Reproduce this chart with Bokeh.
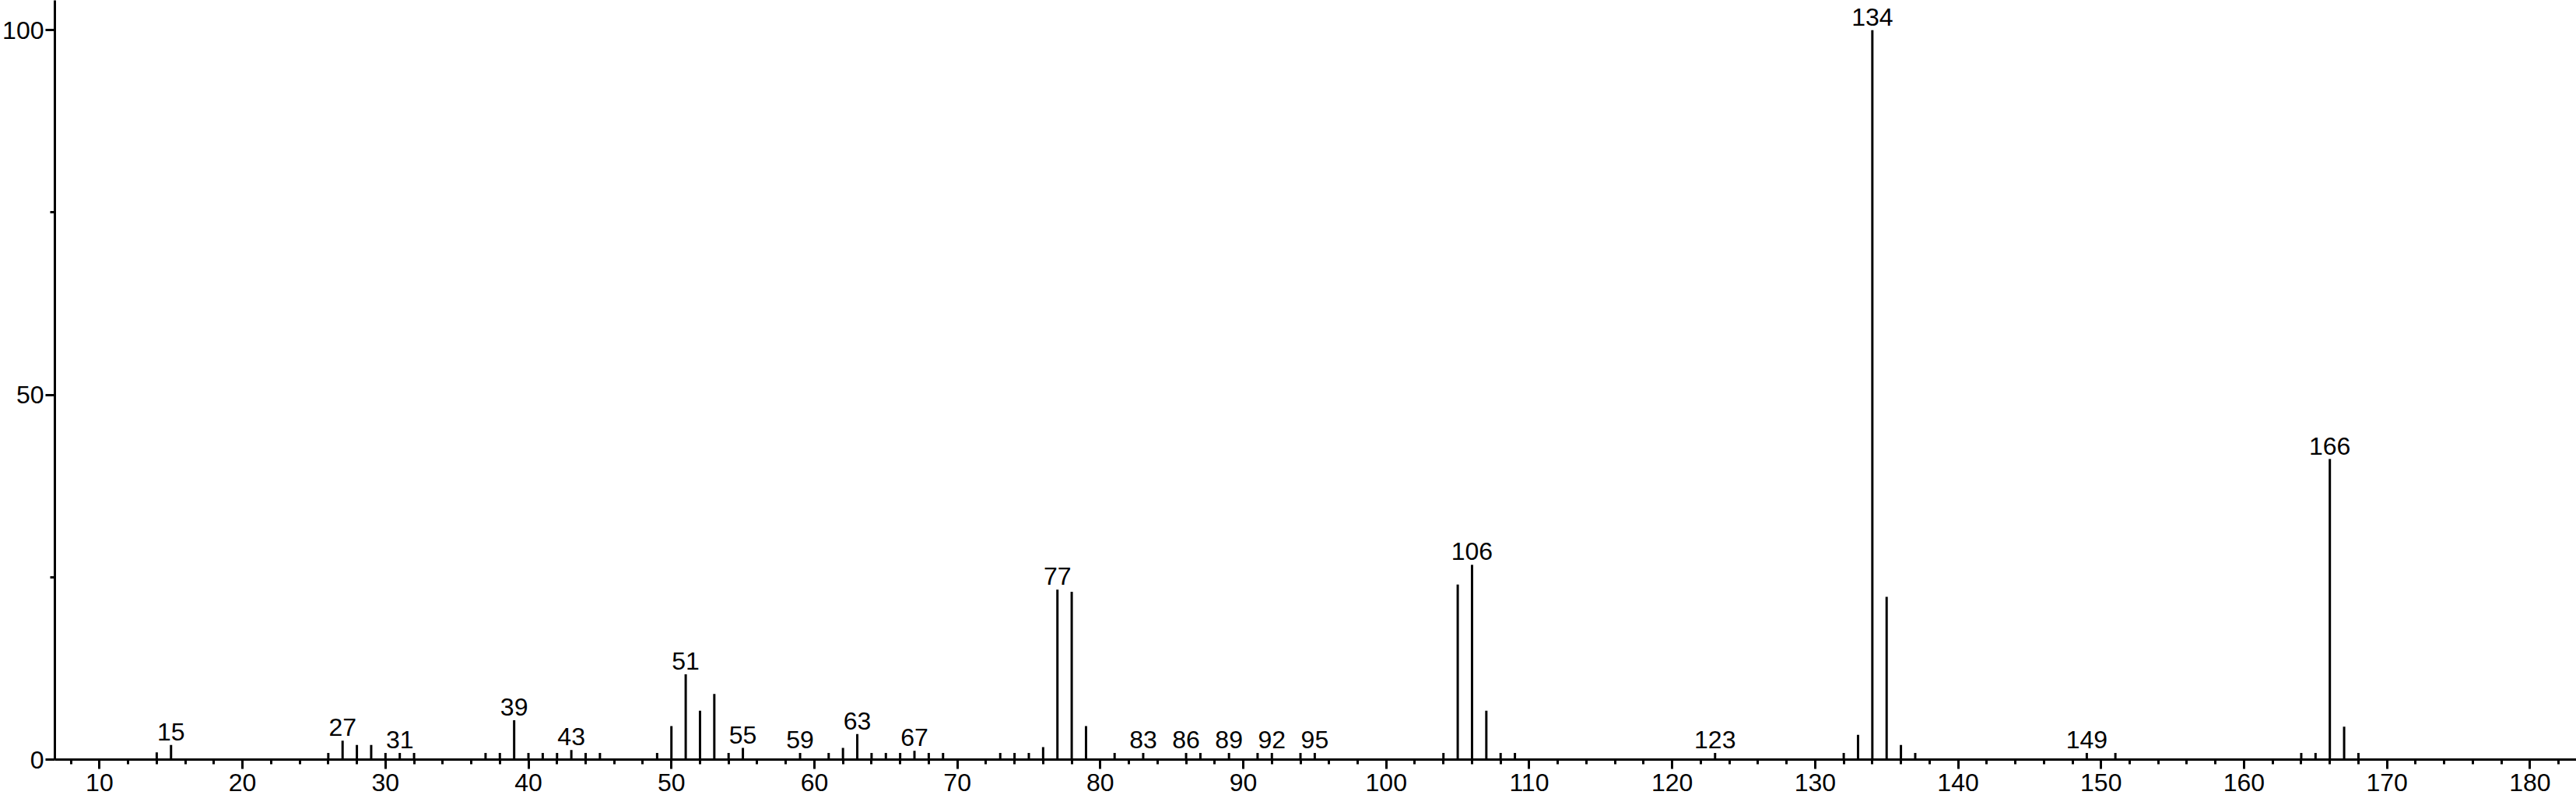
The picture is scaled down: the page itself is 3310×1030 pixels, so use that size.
from bokeh.plotting import figure
from bokeh.models import FixedTicker, Range1d
from bokeh.embed import file_html
from bokeh.resources import INLINE
from bokeh.core.properties import value

# m/z values and relative intensities
mz = [14, 15, 26, 27, 28, 29, 30, 31, 32, 37, 38, 39, 40, 41, 42, 43, 44, 45, 49,
      50, 51, 52, 53, 54, 55, 59, 61, 62, 63, 64, 65, 66, 67, 68, 69, 73, 74, 75,
      76, 77, 78, 79, 81, 83, 86, 87, 89, 91, 92, 94, 95, 104, 105, 106, 107, 108,
      109, 123, 132, 133, 134, 135, 136, 137, 149, 151, 164, 165, 166, 167, 168]
intensity = [1.0, 2.0, 0.9, 2.6, 2.0, 2.0, 0.9, 0.9, 0.9, 0.9, 0.9, 5.4, 0.9, 0.9, 0.9, 1.3, 0.9, 0.9, 0.9,
             4.6, 11.7, 6.7, 9.0, 0.9, 1.6, 0.9, 0.9, 1.6, 3.5, 0.9, 0.9, 0.9, 1.2, 0.9, 0.9, 0.9, 0.9, 0.9,
             1.7, 23.3, 23.0, 4.6, 0.9, 0.9, 0.9, 0.9, 0.9, 0.9, 0.9, 0.9, 0.9, 0.9, 24.0, 26.7, 6.7, 0.9,
             0.9, 0.9, 0.9, 3.4, 100.0, 22.3, 2.0, 0.9, 0.9, 0.9, 0.9, 0.9, 41.2, 4.5, 0.9]
label_mz = [15, 27, 31, 39, 43, 51, 55, 59, 63, 67, 77, 83, 86, 89, 92, 95, 106, 123, 134, 149, 166]

x_ticks = list(range(10, 190, 10))
x_minor = list(range(8, 186, 2))
y_ticks = [0, 50, 100]
y_minor = [25, 75]

FONT = "Liberation Sans"
FS = "32px"

p = figure(frame_width=3241, frame_height=975, output_backend="svg", toolbar_location=None,
           x_range=Range1d(6.875, 183.30), y_range=Range1d(0, 104.09),
           min_border_left=69, min_border_right=0, min_border_top=0, min_border_bottom=55)
p.xgrid.visible = False
p.ygrid.visible = False
p.outline_line_color = None

p.segment(x0=mz, y0=[0] * len(mz), x1=mz, y1=intensity, line_width=3, line_color="black")

lookup = dict(zip(mz, intensity))
label_y = [lookup[m] for m in label_mz]
p.text(x=label_mz, y=label_y, text=[str(m) for m in label_mz], text_align="center",
       text_baseline="bottom", y_offset=-6, text_font=value(FONT), text_font_size=FS,
       text_color="black")

for ax in (p.xaxis[0], p.yaxis[0]):
    ax.axis_line_width = 3
    ax.axis_line_color = "black"
    ax.major_tick_line_width = 3
    ax.minor_tick_line_width = 3
    ax.major_tick_in = 0
    ax.minor_tick_in = 0
    ax.major_tick_out = 12
    ax.minor_tick_out = 6
    ax.major_label_text_font = FONT
    ax.major_label_text_font_size = FS
    ax.major_label_text_color = "black"
    ax.major_label_standoff = 2
p.xaxis[0].major_label_standoff = 6

p.xaxis.ticker = FixedTicker(ticks=x_ticks, minor_ticks=x_minor)
p.yaxis.ticker = FixedTicker(ticks=y_ticks, minor_ticks=y_minor)

open("out.html", "w").write(file_html(p, INLINE))
